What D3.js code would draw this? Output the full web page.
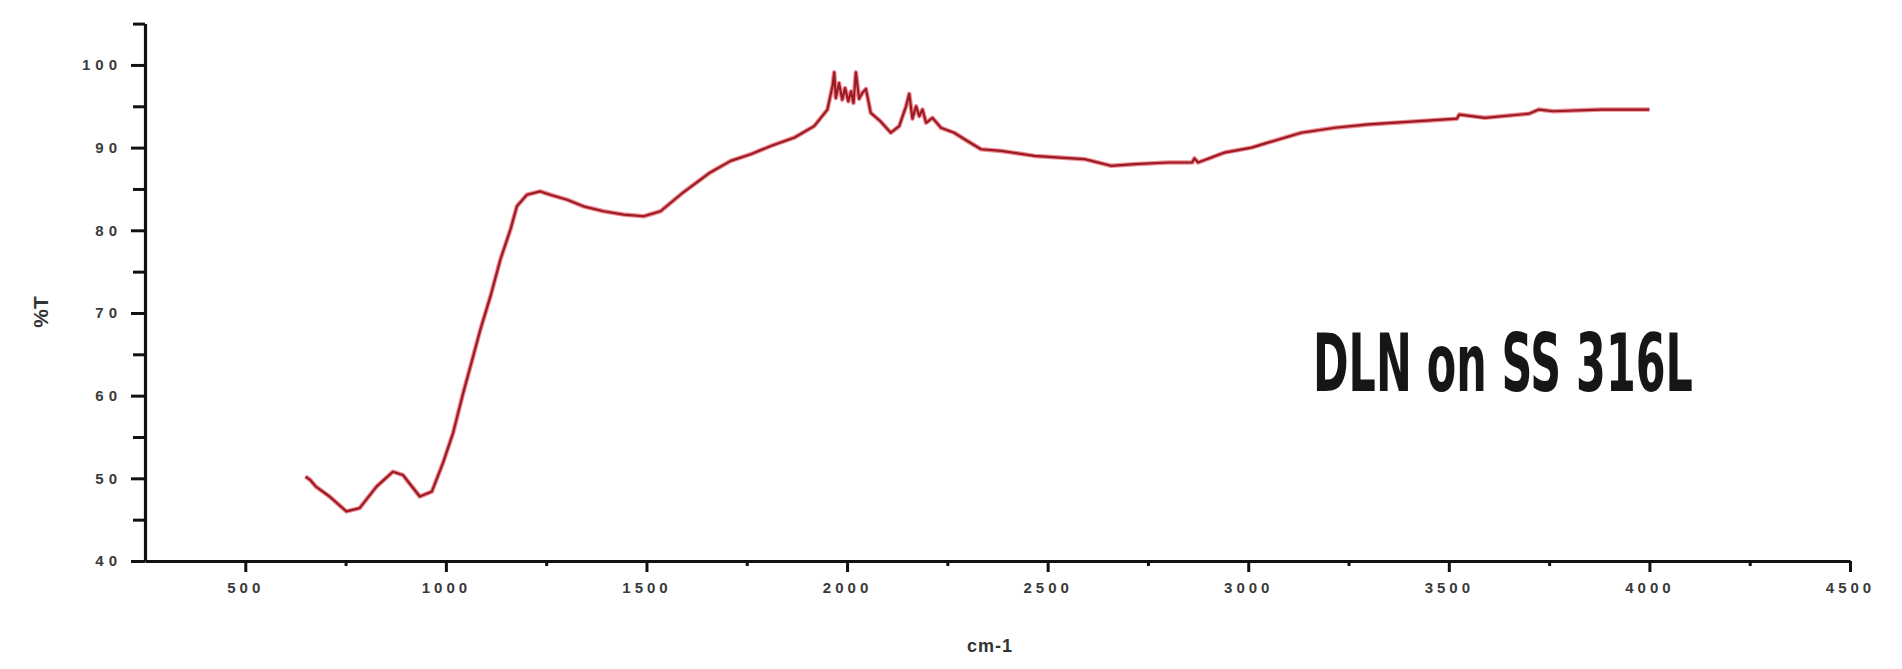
<!DOCTYPE html>
<html>
<head>
<meta charset="utf-8">
<script src="https://cdn.jsdelivr.net/npm/d3@7/dist/d3.min.js"></script>
<style>
  html, body { margin: 0; padding: 0; background: #ffffff; }
  svg { display: block; }
  .tick text { font-family: "Liberation Sans", Arial, sans-serif; font-weight: bold; fill: #3a3a3a; }
</style>
</head>
<body>
<svg id="chart" width="1902" height="669"></svg>
<script>
// FTIR transmittance spectrum of the DLN coating on SS 316L
const wavenumber = [
  650, 662, 676, 710, 752, 785, 827, 868, 893, 935, 965, 993, 1018, 1043, 1061,
  1086, 1111, 1136, 1161, 1177, 1202, 1235, 1260, 1302, 1343, 1393, 1443, 1493,
  1535, 1592, 1659, 1710, 1760, 1810, 1868, 1918, 1951, 1964, 1968, 1972, 1980,
  1988, 1995, 2003, 2010, 2016, 2022, 2030, 2038, 2047, 2059, 2083, 2109, 2130,
  2147, 2155, 2163, 2172, 2180, 2188, 2197, 2213, 2234, 2267, 2300, 2334, 2384,
  2467, 2530, 2592, 2658, 2716, 2800, 2860, 2866, 2875, 2941, 3008, 3049, 3132,
  3216, 3299, 3424, 3520, 3526, 3590, 3700, 3724, 3761, 3881, 4000
];
const transmittance = [
  50.2, 49.8, 49.0, 47.8, 46.0, 46.4, 49.0, 50.8, 50.4, 47.8, 48.4, 51.9, 55.5, 60.3, 63.5,
  68.0, 72.0, 76.5, 80.1, 82.9, 84.3, 84.7, 84.3, 83.7, 82.9, 82.3, 81.9, 81.7,
  82.3, 84.6, 87.0, 88.4, 89.2, 90.2, 91.2, 92.6, 94.6, 97.5, 99.1, 96.0, 97.8,
  95.8, 97.2, 95.6, 96.8, 95.4, 99.1, 95.9, 96.6, 97.1, 94.2, 93.2, 91.8, 92.6,
  95.0, 96.5, 93.5, 95.0, 93.8, 94.6, 93.0, 93.6, 92.4, 91.8, 90.8, 89.8, 89.6,
  89.0, 88.8, 88.6, 87.8, 88.0, 88.2, 88.2, 88.7, 88.2, 89.4, 90.0, 90.6, 91.8,
  92.4, 92.8, 93.2, 93.5, 94.0, 93.6, 94.1, 94.6, 94.4, 94.6, 94.6
];

const xMajorTicks = [500, 1000, 1500, 2000, 2500, 3000, 3500, 4000, 4500];
const xMinorTicks = [750, 1250, 1750, 2250, 2750, 3250, 3750, 4250];
const yMajorTicks = [40, 50, 60, 70, 80, 90, 100];
const yMinorTicks = [45, 55, 65, 75, 85, 95, 105];

const xTitle = "cm-1";
const yTitle = "%T";
const sampleLabel = "DLN on SS 316L";

const svg = d3.select("#chart");

const x = d3.scaleLinear().domain([250, 4500]).range([145, 1850]);
const y = d3.scaleLinear().domain([40, 105]).range([561, 23.6]);

// x axis: labelled major ticks plus short minor ticks
const xAxis = svg.append("g")
  .attr("transform", `translate(0,${y(40)})`)
  .call(d3.axisBottom(x).tickValues(xMajorTicks).tickSize(11).tickSizeOuter(0).tickPadding(10)
    .tickFormat(d3.format("d")));
xAxis.select(".domain").attr("stroke", "#111").attr("stroke-width", 3.2);
xAxis.selectAll(".tick line").attr("stroke", "#111").attr("stroke-width", 3);
xAxis.selectAll(".tick text").style("font-size", "15px").style("letter-spacing", "4px");

const xMinor = svg.append("g")
  .attr("transform", `translate(0,${y(40)})`)
  .call(d3.axisBottom(x).tickValues(xMinorTicks).tickSize(5).tickFormat(""));
xMinor.select(".domain").remove();
xMinor.selectAll(".tick line").attr("stroke", "#111").attr("stroke-width", 3);

// y axis: ticks every 5 %, labels every 10 %
const yAxis = svg.append("g")
  .attr("transform", `translate(${x(250)},0)`)
  .call(d3.axisLeft(y).tickValues(yMajorTicks).tickSize(14).tickSizeOuter(0).tickPadding(9)
    .tickFormat(d3.format("d")));
yAxis.select(".domain").attr("stroke", "#111").attr("stroke-width", 3.2);
yAxis.selectAll(".tick line").attr("stroke", "#111").attr("stroke-width", 3);
yAxis.selectAll(".tick text").style("font-size", "15px").style("letter-spacing", "5px");

const yMinor = svg.append("g")
  .attr("transform", `translate(${x(250)},0)`)
  .call(d3.axisLeft(y).tickValues(yMinorTicks).tickSize(12).tickFormat(""));
yMinor.select(".domain").remove();
yMinor.selectAll(".tick line").attr("stroke", "#111").attr("stroke-width", 3);

// axis titles
svg.append("text")
  .attr("x", 990).attr("y", 652)
  .attr("text-anchor", "middle")
  .style("font-family", "'Liberation Sans', Arial, sans-serif")
  .style("font-weight", "bold").style("font-size", "18px")
  .style("letter-spacing", "1px")
  .attr("fill", "#333")
  .text(xTitle);

svg.append("text")
  .attr("transform", "translate(48,312) rotate(-90)")
  .attr("text-anchor", "middle")
  .style("font-family", "'Liberation Sans', Arial, sans-serif")
  .style("font-weight", "bold").style("font-size", "21px")
  .attr("fill", "#333")
  .text(yTitle);

// spectrum
const line = d3.line()
  .x((d, i) => x(wavenumber[i]))
  .y(d => y(d));

svg.append("path")
  .datum(transmittance)
  .attr("d", line)
  .attr("fill", "none")
  .attr("stroke", "#e02a36")
  .attr("stroke-opacity", 0.55)
  .attr("stroke-width", 4.5)
  .attr("stroke-linejoin", "round");

svg.append("path")
  .datum(transmittance)
  .attr("d", line)
  .attr("fill", "none")
  .attr("stroke", "#9a1b24")
  .attr("stroke-width", 2.2)
  .attr("stroke-linejoin", "round");

// sample annotation, condensed horizontally to the wanted width
const label = svg.append("text")
  .attr("transform", "translate(1313,391)")
  .style("font-family", "'Liberation Sans Narrow', 'DejaVu Sans Condensed', sans-serif")
  .style("font-weight", "bold").style("font-size", "80px")
  .attr("fill", "#161616")
  .text(sampleLabel);
const natural = label.node().getComputedTextLength();
label.attr("transform", `translate(1313,391) scale(${380 / natural},1)`);
</script>
</body>
</html>
